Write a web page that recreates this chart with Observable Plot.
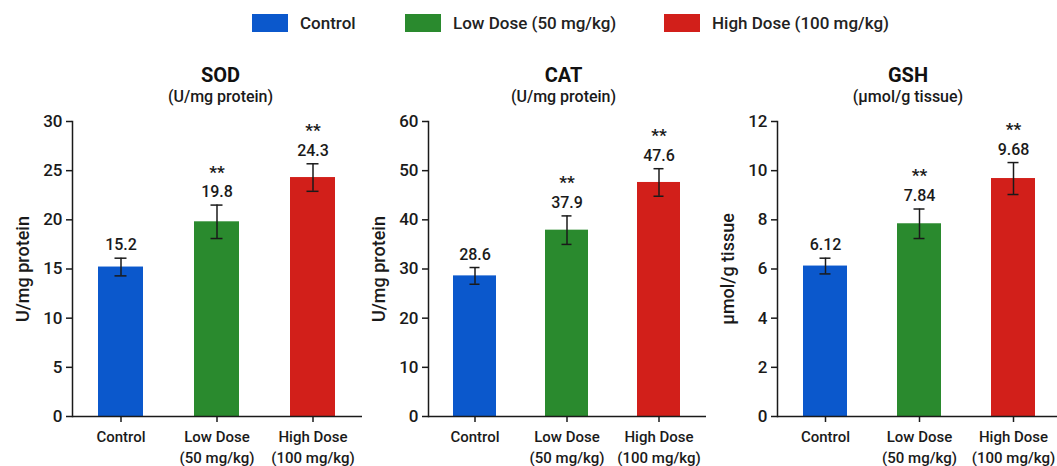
<!DOCTYPE html>
<html>
<head>
<meta charset="utf-8">
<script src="https://cdn.jsdelivr.net/npm/d3@7"></script>
<script src="https://cdn.jsdelivr.net/npm/@observablehq/plot@0.6"></script>
<style>
  html, body { margin: 0; padding: 0; background: #fff; overflow: hidden; }
  body { width: 1057px; height: 466px; position: relative; font-family: Roboto, "Noto Sans", sans-serif; }
  #legend { position: absolute; top: 0; left: 0; width: 1057px; height: 45px; }
  .li { position: absolute; top: 13px; display: flex; align-items: center; font-size: 17px; color: #222; font-weight: 500; }
  .sw { width: 36px; height: 18px; margin-right: 12px; }
  .panel { position: absolute; top: 45px; }
  .panel svg { max-width: none !important; }
</style>
</head>
<body>
<div id="legend"></div>
<div id="charts"></div>
<script>
// ---- data ----
const groups = ["Control", "Low Dose", "High Dose"];
const groupDoses = ["", "(50 mg/kg)", "(100 mg/kg)"];
const legendLabels = ["Control", "Low Dose (50 mg/kg)", "High Dose (100 mg/kg)"];
const colors = ["#0b58cc", "#2a8a2e", "#d21f1a"];

const sodValues = [15.2, 19.8, 24.3];
const sodErrors = [0.9, 1.7, 1.4];
const sodLabels = ["15.2", "19.8", "24.3"];

const catValues = [28.6, 37.9, 47.6];
const catErrors = [1.7, 2.9, 2.8];
const catLabels = ["28.6", "37.9", "47.6"];

const gshValues = [6.12, 7.84, 9.68];
const gshErrors = [0.32, 0.6, 0.65];
const gshLabels = ["6.12", "7.84", "9.68"];

const significance = ["", "**", "**"];

const panels = [
  {title: "SOD", unit: "(U/mg protein)", yLabel: "U/mg protein", values: sodValues, errors: sodErrors, labels: sodLabels, yMax: 30, ticks: [0,5,10,15,20,25,30],
   left: 0, width: 362, marginLeft: 72, titleDx: 3},
  {title: "CAT", unit: "(U/mg protein)", yLabel: "U/mg protein", values: catValues, errors: catErrors, labels: catLabels, yMax: 60, ticks: [0,10,20,30,40,50,60],
   left: 352, width: 354, marginLeft: 76, titleDx: -4},
  {title: "GSH", unit: "(µmol/g tissue)", yLabel: "µmol/g tissue", values: gshValues, errors: gshErrors, labels: gshLabels, yMax: 12, ticks: [0,2,4,6,8,10,12],
   left: 704, width: 358, marginLeft: 73, titleDx: -12}
];

// ---- legend ----
const legend = document.getElementById("legend");
const legendX = [252, 405, 664];
legendLabels.forEach((lab, i) => {
  const d = document.createElement("div");
  d.className = "li";
  d.style.left = legendX[i] + "px";
  d.innerHTML = `<div class="sw" style="background:${colors[i]}"></div><span>${lab}</span>`;
  legend.appendChild(d);
});

// ---- panels ----
const charts = document.getElementById("charts");
panels.forEach(p => {
  const data = groups.map((g, i) => ({
    group: g, dose: groupDoses[i], value: p.values[i], err: p.errors[i],
    label: p.labels[i], sig: significance[i], color: colors[i]
  }));
  const chart = Plot.plot({
    width: p.width,
    height: 421,
    marginLeft: p.marginLeft,
    marginRight: 0,
    marginTop: 76,
    marginBottom: 50,
    style: {fontFamily: "Roboto, 'Noto Sans', sans-serif", fontWeight: 500, background: "transparent", color: "#1a1a1a", overflow: "visible"},
    x: {domain: groups, paddingInner: 0.53, paddingOuter: 0.27},
    y: {domain: [0, p.yMax]},
    marks: [
      Plot.barY(data, {x: "group", y: "value", fill: "color"}),
      Plot.ruleX(data, {x: "group", y1: d => d.value - d.err, y2: d => d.value + d.err, stroke: "#1a1a1a", strokeWidth: 1.5}),
      Plot.tickY(data, {x: "group", y: d => d.value + d.err, stroke: "#1a1a1a", strokeWidth: 1.5, inset: 16.5}),
      Plot.tickY(data, {x: "group", y: d => d.value - d.err, stroke: "#1a1a1a", strokeWidth: 1.5, inset: 16.5}),
      Plot.text(data, {x: "group", y: d => d.value + d.err, text: "label", dy: -13, fontSize: 16, fill: "#1a1a1a"}),
      Plot.text(data, {x: "group", y: d => d.value + d.err, text: "sig", dy: -33, fontSize: 17, fontWeight: "bold", fill: "#1a1a1a"}),
      Plot.ruleY([0], {stroke: "#1a1a1a", strokeWidth: 1.5}),
      Plot.frame({anchor: "left", stroke: "#1a1a1a", strokeWidth: 1.5}),
      Plot.axisY({ticks: p.ticks, tickSize: 6, tickPadding: 4, fontSize: 17, label: p.yLabel, labelAnchor: "center", labelArrow: "none", labelOffset: 56, stroke: "#1a1a1a", strokeWidth: 1.5}),
      Plot.axisX({tickSize: 6, tickPadding: 5, fontSize: 15, label: null, tickFormat: g => { const i = groups.indexOf(g); return groupDoses[i] ? g + "\n" + groupDoses[i] : g; }, lineHeight: 1.4, stroke: "#1a1a1a", strokeWidth: 1.5}),
      Plot.text([p.title], {frameAnchor: "top", dy: -54, dx: p.titleDx, fontSize: 20, fontWeight: "bold", fill: "#111"}),
      Plot.text([p.unit], {frameAnchor: "top", dy: -31, dx: p.titleDx, fontSize: 16, fill: "#1a1a1a"})
    ]
  });
  const wrap = document.createElement("div");
  wrap.className = "panel";
  wrap.style.left = p.left + "px";
  wrap.style.width = p.width + "px";
  wrap.appendChild(chart);
  charts.appendChild(wrap);
  const svg = d3.select(chart.tagName === "svg" ? chart : chart.querySelector("svg"));
  svg.select("[aria-label='y-axis label'] text").style("font-size", "18px");
});
</script>
</body>
</html>
